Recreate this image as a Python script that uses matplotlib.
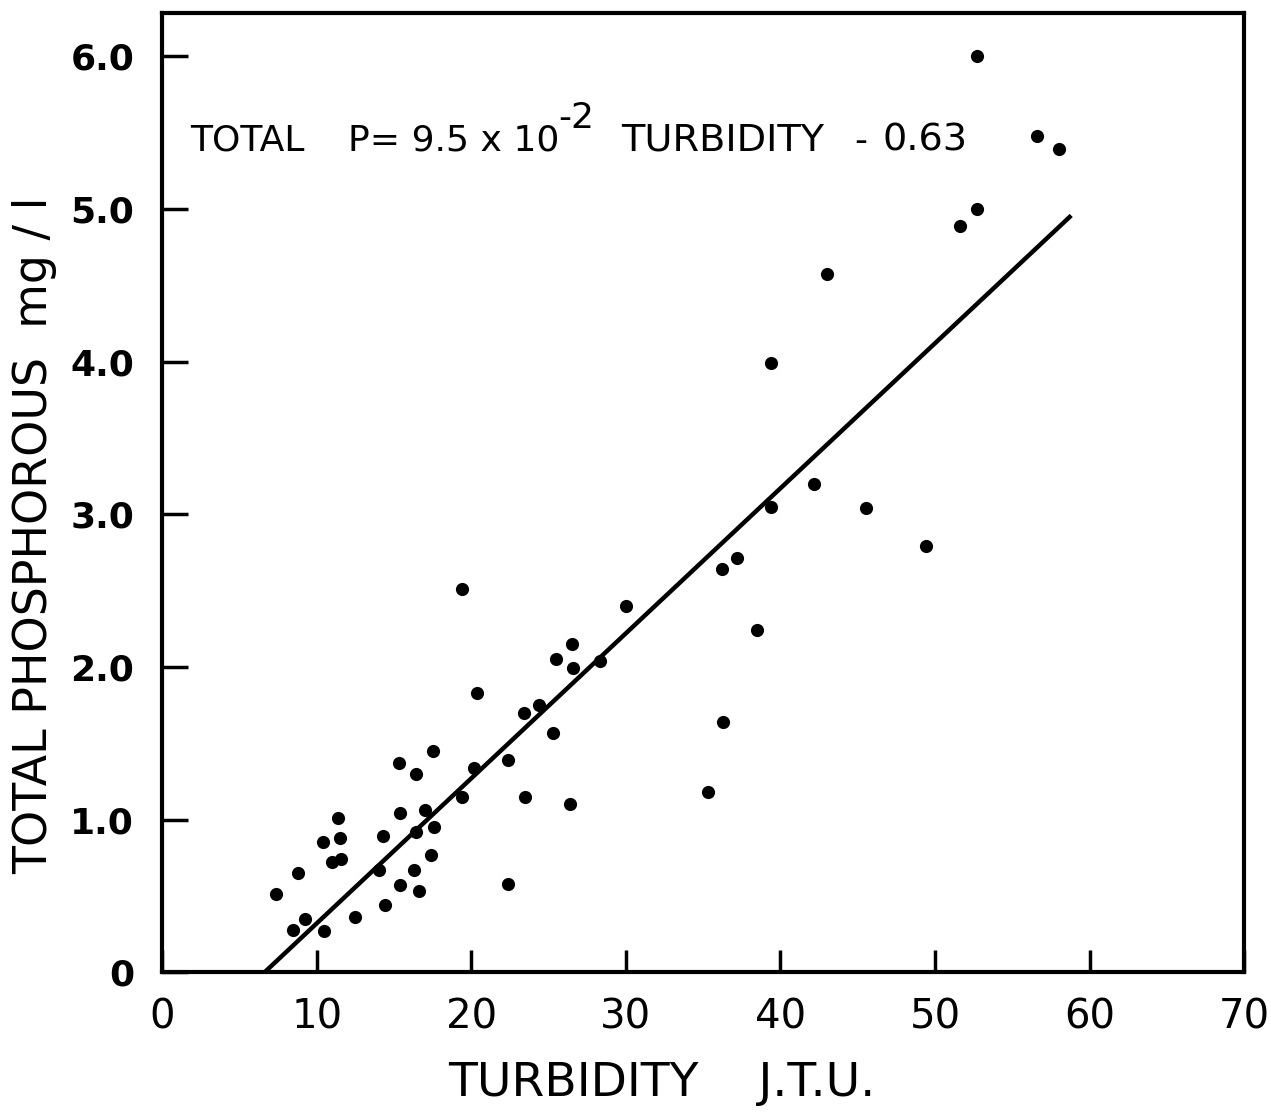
import matplotlib
matplotlib.use("Agg")
import matplotlib.pyplot as plt
import numpy as np

# values
turbidity = [52.7, 56.6, 58.0, 52.7, 51.6, 43.0, 39.4, 42.2, 39.4, 45.5,
             49.4, 36.2, 37.2, 38.5, 36.3, 35.3, 19.4, 30.0, 26.5, 25.5,
             26.6, 28.3, 20.4, 23.4, 24.4, 25.3, 22.4, 20.2, 19.4, 23.5,
             26.4, 22.4, 17.5, 15.3, 16.4, 11.4, 10.4, 11.5, 11.0, 11.6,
             8.8, 7.4, 9.25, 8.45, 10.5, 12.5, 14.4, 15.4, 16.6, 16.3,
             17.4, 14.0, 15.4, 14.3, 16.4, 17.6, 17.0]
phosphorus = [6.00, 5.48, 5.39, 5.00, 4.89, 4.57, 3.99, 3.20, 3.05, 3.04,
              2.79, 2.64, 2.71, 2.24, 1.64, 1.18, 2.51, 2.40, 2.15, 2.05,
              1.99, 2.04, 1.83, 1.70, 1.75, 1.57, 1.39, 1.34, 1.15, 1.15,
              1.10, 0.58, 1.45, 1.37, 1.30, 1.01, 0.85, 0.88, 0.72, 0.74,
              0.65, 0.51, 0.35, 0.28, 0.27, 0.36, 0.44, 0.57, 0.53, 0.67,
              0.77, 0.67, 1.04, 0.89, 0.92, 0.95, 1.06]

# regression: total P = 9.5e-2 * turbidity - 0.63
slope = 9.5e-2
intercept = -0.63
fit_range = [-intercept / slope, 58.7]

x_ticks = [0, 10, 20, 30, 40, 50, 60, 70]
x_ticklabels = ["0", "10", "20", "30", "40", "50", "60", "70"]
y_ticks = [0, 1, 2, 3, 4, 5, 6]
y_ticklabels = ["0", "1.0", "2.0", "3.0", "4.0", "5.0", "6.0"]

fig = plt.figure(figsize=(12.71, 11.15), dpi=100)
ax = fig.add_axes([0.1275, 0.128, 0.8515, 0.86])

ax.scatter(turbidity, phosphorus, s=90, color="black", zorder=3, linewidths=0)

fx = np.array(fit_range)
ax.plot(fx, slope * fx + intercept, color="black", linewidth=3.2, zorder=2)

ax.set_xlim(0, 70)
ax.set_ylim(0, 6.28)

ax.set_xticks(x_ticks)
ax.set_xticklabels(x_ticklabels, family="DejaVu Sans", fontsize=29)
ax.set_yticks(y_ticks)
ax.set_yticklabels(y_ticklabels, family="DejaVu Sans", fontsize=26, fontweight="bold")

ax.tick_params(axis="x", direction="in", length=16, width=2.5, pad=18)
ax.tick_params(axis="y", direction="in", length=19, width=2.5, pad=20)

for spine in ax.spines.values():
    spine.set_linewidth(3)

# equation, placed piece by piece like the hand lettering
eq_kw = dict(fontsize=26, family="DejaVu Sans", va="baseline", ha="left")
ax.text(1.8, 5.38, "TOTAL", **eq_kw)
ax.text(12.0, 5.38, "P= 9.5 x 10", **eq_kw)
ax.text(25.6, 5.53, "-2", **eq_kw)
ax.text(29.7, 5.38, "TURBIDITY", fontsize=27.5, family="DejaVu Sans",
        va="baseline", ha="left")
ax.text(44.8, 5.38, "-", **eq_kw)
ax.text(46.6, 5.38, "0.63", fontsize=27.5, family="DejaVu Sans",
        va="baseline", ha="left")

fig.text(35 / 1271, 1 - 535 / 1115, "TOTAL PHOSPHOROUS  mg / l",
         rotation=90, ha="center", va="center", fontsize=33, family="DejaVu Sans")
fig.text(662 / 1271, 1 - 1083 / 1115, "TURBIDITY    J.T.U.",
         ha="center", va="center", fontsize=34, family="DejaVu Sans")

fig.savefig("out.png", dpi=100, facecolor="white")
